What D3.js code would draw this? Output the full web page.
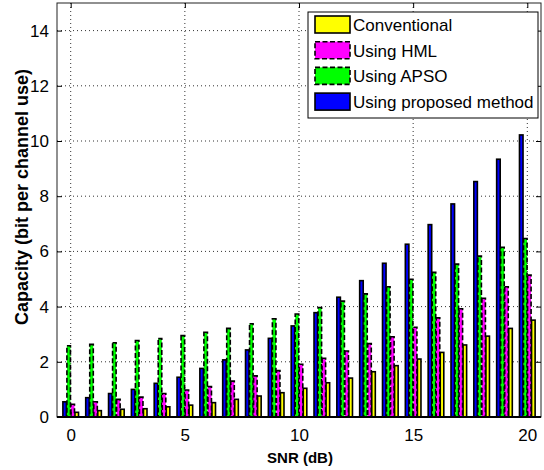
<!DOCTYPE html>
<html>
<head>
<meta charset="utf-8">
<script src="https://cdn.jsdelivr.net/npm/d3@7"></script>
<style>
  body { margin: 0; background: #fff; }
  text { font-family: "Liberation Sans", Arial, sans-serif; }
</style>
</head>
<body>
<div id="chart"></div>
<script>
// SNR values (x categories)
const snr = [0, 1, 2, 3, 4, 5, 6, 7, 8, 9, 10, 11, 12, 13, 14, 15, 16, 17, 18, 19, 20];

// capacity per method
const conventional = [0.17, 0.23, 0.28, 0.30, 0.37, 0.43, 0.52, 0.64, 0.76, 0.88, 1.04, 1.24, 1.41, 1.64, 1.86, 2.10, 2.34, 2.61, 2.93, 3.21, 3.51];
const usingHml = [0.46, 0.55, 0.64, 0.72, 0.85, 0.98, 1.10, 1.30, 1.49, 1.68, 1.91, 2.13, 2.39, 2.66, 2.91, 3.25, 3.59, 3.92, 4.30, 4.72, 5.14];
const usingApso = [2.58, 2.63, 2.69, 2.77, 2.84, 2.95, 3.07, 3.21, 3.38, 3.56, 3.73, 3.97, 4.20, 4.46, 4.72, 4.99, 5.24, 5.54, 5.83, 6.15, 6.47];
const usingProposed = [0.55, 0.70, 0.85, 1.00, 1.22, 1.44, 1.76, 2.07, 2.43, 2.85, 3.30, 3.78, 4.34, 4.94, 5.57, 6.26, 6.97, 7.72, 8.53, 9.34, 10.22];

const xTicks = [0, 5, 10, 15, 20];
const yTicks = [0, 2, 4, 6, 8, 10, 12, 14];

// legend order
const legendNames = ['Conventional', 'Using HML', 'Using APSO', 'Using proposed method'];

const series = [
  { name: 'Using proposed method', values: usingProposed, color: '#0000ff', dashed: false },
  { name: 'Using APSO', values: usingApso, color: '#00ff00', dashed: true },
  { name: 'Using HML', values: usingHml, color: '#ff00ff', dashed: true },
  { name: 'Conventional', values: conventional, color: '#ffff00', dashed: false }
];

const width = 544;
const height = 470;
const pLeft = 57, pRight = 541, pTop = 3, pBottom = 417;

const svg = d3.select('#chart')
              .append('svg')
              .attr('width', width)
              .attr('height', height);

const xScale = d3.scaleLinear().domain([-0.6, 20.6]).range([pLeft, pRight]);
const yScale = d3.scaleLinear().domain([0, 15]).range([pBottom, pTop]);

const unit = xScale(1) - xScale(0);
const groupWidth = unit * 4 / 5.5;
const inner = d3.scaleBand()
                .domain(series.map(s => s.name))
                .range([-groupWidth / 2, groupWidth / 2])
                .padding(0.12);

// grid
const grid = svg.append('g');
grid.selectAll('.gy').data(yTicks.filter(t => t > 0)).enter().append('line')
    .attr('x1', pLeft).attr('x2', pRight)
    .attr('y1', d => yScale(d)).attr('y2', d => yScale(d))
    .attr('stroke', '#333').attr('stroke-width', 1)
    .attr('stroke-dasharray', '1,3');
grid.selectAll('.gx').data(xTicks).enter().append('line')
    .attr('x1', d => xScale(d)).attr('x2', d => xScale(d))
    .attr('y1', pTop).attr('y2', pBottom)
    .attr('stroke', '#333').attr('stroke-width', 1)
    .attr('stroke-dasharray', '1,3');

// bars
series.forEach(s => {
  svg.append('g').selectAll('rect')
     .data(snr.map((x, i) => ({ x: x, v: s.values[i] })))
     .enter().append('rect')
     .attr('x', d => xScale(d.x) + inner(s.name))
     .attr('width', inner.bandwidth())
     .attr('y', d => yScale(d.v))
     .attr('height', d => yScale(0) - yScale(d.v))
     .attr('fill', s.color)
     .attr('stroke', '#000')
     .attr('stroke-width', 1.6)
     .attr('stroke-dasharray', s.dashed ? '5,2.5' : null);
});

// axes box
svg.append('rect')
   .attr('x', pLeft).attr('y', pTop)
   .attr('width', pRight - pLeft).attr('height', pBottom - pTop)
   .attr('fill', 'none').attr('stroke', '#222').attr('stroke-width', 1);

const tickLen = 5;
const xAxisB = d3.axisBottom(xScale).tickValues(xTicks).tickSizeInner(-tickLen).tickSizeOuter(0).tickPadding(12);
const xAxisT = d3.axisTop(xScale).tickValues(xTicks).tickSizeInner(-tickLen).tickSizeOuter(0).tickFormat('');
const yAxisL = d3.axisLeft(yScale).tickValues(yTicks).tickSizeInner(-tickLen).tickSizeOuter(0).tickPadding(8);
const yAxisR = d3.axisRight(yScale).tickValues(yTicks).tickSizeInner(-tickLen).tickSizeOuter(0).tickFormat('');

[[xAxisB, `translate(0,${pBottom})`], [xAxisT, `translate(0,${pTop})`],
 [yAxisL, `translate(${pLeft},0)`], [yAxisR, `translate(${pRight},0)`]].forEach(([ax, tr]) => {
  const g = svg.append('g').attr('transform', tr).call(ax);
  g.select('.domain').remove();
  g.selectAll('text').attr('font-size', 17).attr('fill', '#000')
   .style('font-family', '"Liberation Sans", Arial, sans-serif');
});

svg.append('line').attr('x1', pLeft).attr('x2', pRight).attr('y1', pBottom).attr('y2', pBottom)
   .attr('stroke', '#000').attr('stroke-width', 2);

// labels
svg.append('text')
   .attr('x', 300).attr('y', 463)
   .attr('text-anchor', 'middle')
   .attr('font-size', 15).attr('font-weight', 'bold')
   .text('SNR (dB)');

svg.append('text')
   .attr('transform', `translate(28,197) rotate(-90)`)
   .attr('text-anchor', 'middle')
   .attr('font-size', 18).attr('font-weight', 'bold')
   .text('Capacity (bit per channel use)');

// legend
const legend = svg.append('g').attr('transform', 'translate(308,12)');
legend.append('rect')
      .attr('width', 230).attr('height', 106)
      .attr('fill', '#fff').attr('stroke', '#000').attr('stroke-width', 1);
legendNames.forEach((name, i) => {
  const s = series.find(d => d.name === name);
  const row = legend.append('g').attr('transform', `translate(7,${4 + i * 25.7})`);
  row.append('rect')
     .attr('width', 35).attr('height', 17)
     .attr('fill', s.color).attr('stroke', '#000').attr('stroke-width', 1.6)
     .attr('stroke-dasharray', s.dashed ? '5,2.5' : null);
  row.append('text')
     .attr('x', 38).attr('y', 9).attr('dy', '0.35em')
     .attr('font-size', 17)
     .text(name);
});
</script>
</body>
</html>
